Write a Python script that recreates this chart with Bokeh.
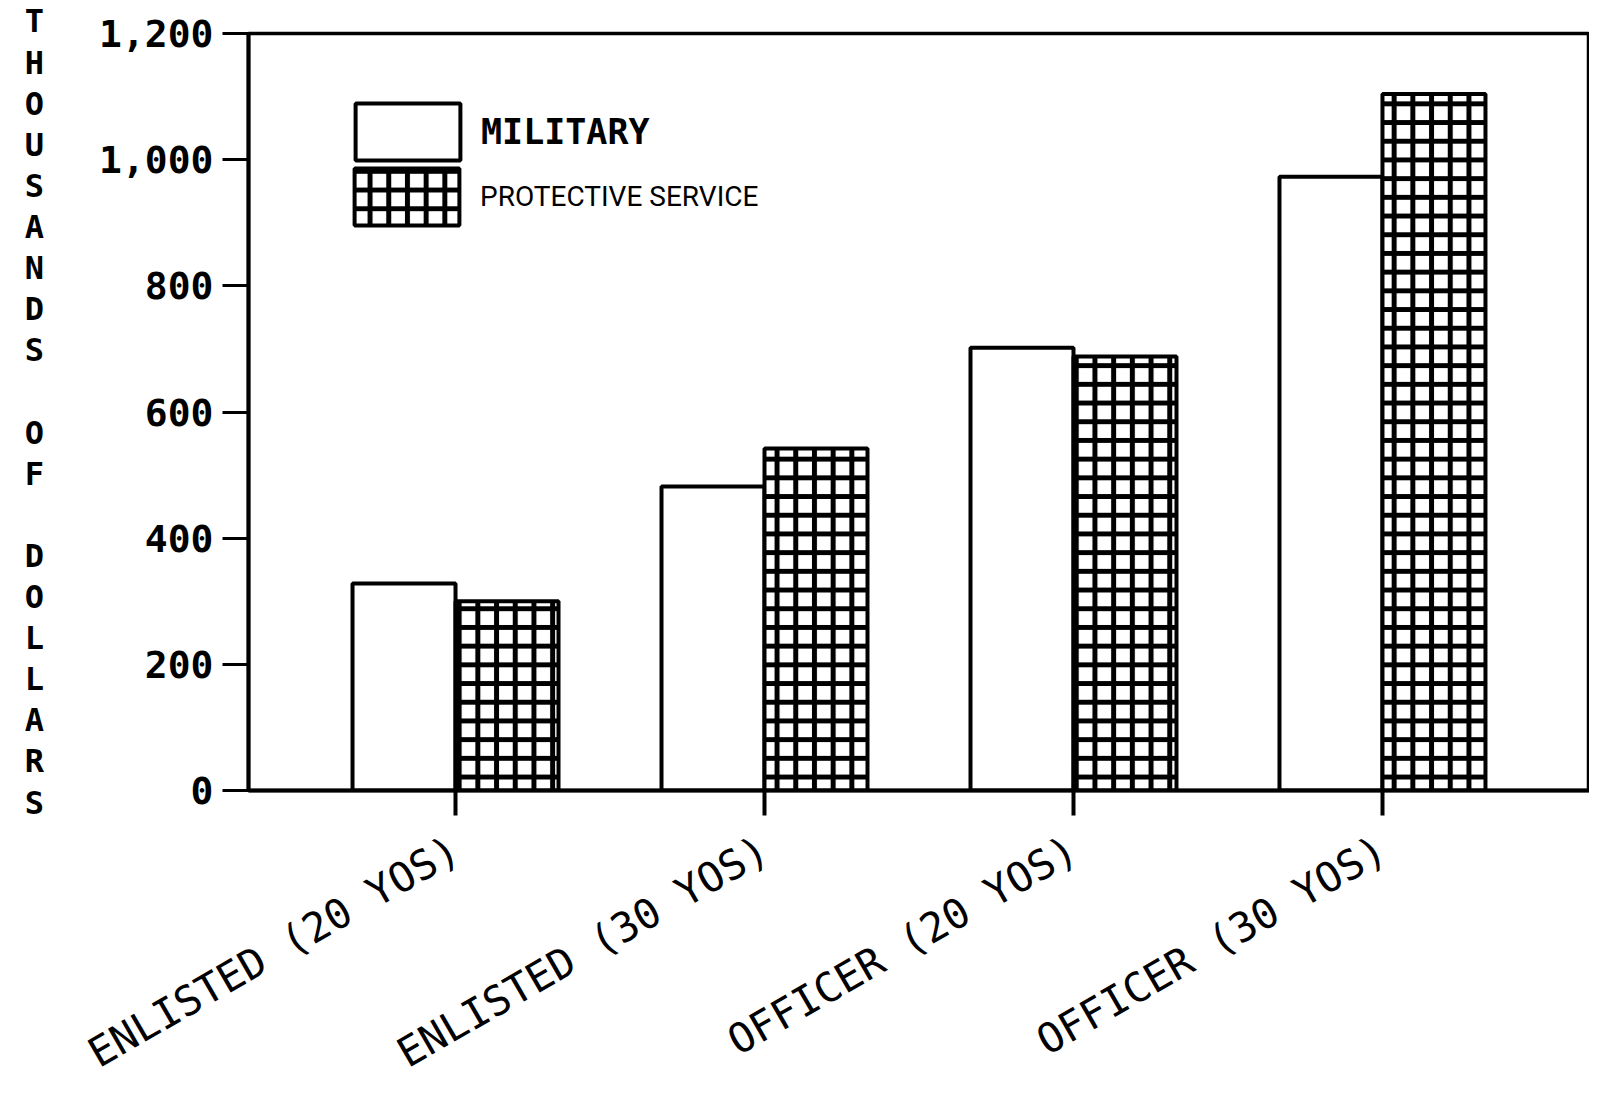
import math
from bokeh.plotting import figure
from bokeh.models import (FactorRange, Range1d, NumeralTickFormatter, FixedTicker,
                          Legend, LegendItem, ColumnDataSource)
from bokeh.transform import dodge
from bokeh.embed import file_html
from bokeh.resources import INLINE

# ---- data ----
CATEGORIES = ["ENLISTED (20 YOS)", "ENLISTED (30 YOS)", "OFFICER (20 YOS)", "OFFICER (30 YOS)"]
MILITARY = [328, 482, 702, 973]
PROTECTIVE = [300, 542, 688, 1104]
SERIES_NAMES = ["MILITARY", "PROTECTIVE SERVICE"]
Y_TICKS = [0, 200, 400, 600, 800, 1000, 1200]
Y_AXIS_TITLE = "THOUSANDS OF DOLLARS"

src = ColumnDataSource(dict(cat=CATEGORIES, military=MILITARY, protective=PROTECTIVE))

p = figure(
    width=1589, height=1100,
    x_range=FactorRange(factors=CATEGORIES, range_padding=0.17, range_padding_units="absolute"),
    y_range=Range1d(0, 1200),
    output_backend="svg", toolbar_location=None,
    min_border_left=248, min_border_right=0, min_border_top=33, min_border_bottom=308,
)
p.background_fill_color = "white"
p.border_fill_color = "white"
p.outline_line_color = "black"
p.outline_line_width = 3.5
p.outline_line_alpha = 1.0
p.xgrid.visible = False
p.ygrid.visible = False

r_mil = p.vbar(x=dodge("cat", -1/6, range=p.x_range), top="military", width=1/3, source=src,
               fill_color="white", line_color="black", line_width=4)
r_pro = p.vbar(x=dodge("cat", 1/6, range=p.x_range), top="protective", width=1/3, source=src,
               fill_color="white", line_color="black", line_width=4,
               hatch_pattern="+", hatch_color="black", hatch_scale=18.7, hatch_weight=5)

# x axis
xa = p.xaxis[0]
xa.major_label_orientation = math.pi / 6
xa.major_tick_out = 25
xa.major_tick_in = 0
xa.minor_tick_out = 0
xa.minor_tick_in = 0
xa.axis_line_width = 4
xa.major_tick_line_width = 4
xa.major_label_standoff = 31
xa.major_label_text_font = "DejaVu Sans Mono"
xa.major_label_text_font_size = "41px"
xa.major_label_text_color = "black"

# stacked vertical axis title (one letter per line)
rows = []
for wi, word in enumerate(Y_AXIS_TITLE.split()):
    if wi:
        rows.append("")
    rows.extend(list(word))

# y axis
ya = p.yaxis[0]
ya.ticker = FixedTicker(ticks=Y_TICKS)
ya.formatter = NumeralTickFormatter(format="0,0")
ya.major_tick_out = 26
ya.major_tick_in = 0
ya.minor_tick_out = 0
ya.minor_tick_in = 0
ya.axis_line_width = 4
ya.major_tick_line_width = 3
ya.major_label_standoff = 9
ya.major_label_text_font = "DejaVu Sans Mono"
ya.major_label_text_font_style = "bold"
ya.major_label_text_font_size = "38px"
ya.major_label_text_color = "black"
ya.axis_label = "\n".join(rows)
ya.axis_label_orientation = "horizontal"
ya.axis_label_standoff = 52
ya.axis_label_text_font = "DejaVu Sans Mono"
ya.axis_label_text_font_style = "bold"
ya.axis_label_text_font_size = "32px"
ya.axis_label_text_line_height = 1.082
ya.axis_label_text_align = "center"
ya.axis_label_text_color = "black"

# legends
common = dict(glyph_width=131, glyph_height=71, label_height=71, label_standoff=8,
              padding=0, margin=0, spacing=0, border_line_color=None,
              background_fill_alpha=0, label_text_color="black")
leg1 = Legend(items=[LegendItem(label=SERIES_NAMES[0], renderers=[r_mil], index=0)],
              location=(94, 623), label_text_font="DejaVu Sans Mono",
              label_text_font_style="bold", label_text_font_size="35px", **common)
leg2 = Legend(items=[LegendItem(label=SERIES_NAMES[1], renderers=[r_pro], index=0)],
              location=(93, 558), label_text_font="Roboto",
              label_text_font_size="28px", **common)
p.add_layout(leg1)
p.add_layout(leg2)

open("out.html", "w").write(file_html(p, INLINE))
